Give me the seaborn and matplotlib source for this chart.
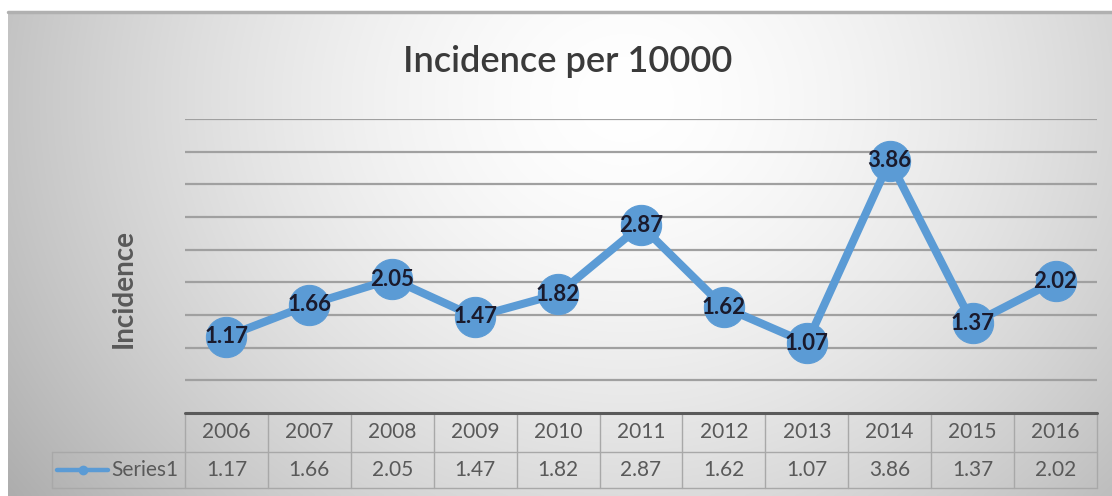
import numpy as np
import pandas as pd
import matplotlib
matplotlib.use("Agg")
import matplotlib.pyplot as plt
import matplotlib.transforms as mtransforms
from matplotlib.lines import Line2D
import seaborn as sns

# ---------------- data ----------------
years = ["2006", "2007", "2008", "2009", "2010", "2011",
         "2012", "2013", "2014", "2015", "2016"]
values = [1.17, 1.66, 2.05, 1.47, 1.82, 2.87, 1.62, 1.07, 3.86, 1.37, 2.02]
series_name = "Series1"
title = "Incidence per 10000"
ylabel = "Incidence"

df = pd.DataFrame({"pos": np.arange(len(years)), "year": years, "value": values})

# ---------------- style ----------------
sns.set_style("white")
plt.rcParams["font.family"] = ["Lato", "DejaVu Sans"]

W, H = 1112, 496
fig = plt.figure(figsize=(W / 100, H / 100), dpi=100, facecolor="white")

def fx(px):
    return px / W

def fy(py):
    return (H - py) / H

# background panel with radial gradient
bg = fig.add_axes([fx(8), 0, 1 - fx(8), fy(12)], zorder=-10)
nx, ny = 400, 200
gx, gy = np.meshgrid(np.linspace(0, 1, nx), np.linspace(0, 1, ny))
d = np.sqrt(((gx - 0.56) / 0.62) ** 2 + ((gy - 0.18) / 1.25) ** 2)
v = 1.0 - 0.27 * np.clip(d, 0, 1.2) ** 1.6
img = np.dstack([v, v, v])
bg.imshow(img, aspect="auto", extent=[0, 1, 0, 1], origin="upper",
          interpolation="bicubic")
bg.set_axis_off()
bg.plot([0, 1], [1, 1], color="#b0b0b0", lw=2.5, transform=bg.transAxes,
        clip_on=False)

# main plotting axes
left_px, right_px, top_px, bot_px = 185, 1097, 119, 413
ax = fig.add_axes([fx(left_px), fy(bot_px), fx(right_px - left_px),
                   (bot_px - top_px) / H])
ax.set_facecolor("none")

blue = "#5B9BD5"
sns.lineplot(data=df, x="pos", y="value", ax=ax, color=blue, linewidth=5.8,
             marker="o", markersize=29, markeredgecolor=blue,
             markerfacecolor=blue, zorder=3)

ax.set_xlim(-0.5, len(years) - 0.5)
ax.set_ylim(0, 4.5)
ax.set_yticks(np.arange(0.5, 4.51, 0.5))
ax.yaxis.grid(True, color="#a0a0a0", linewidth=1.6)
ax.set_axisbelow(True)
ax.tick_params(left=False, bottom=False, labelleft=False, labelbottom=False)
for s in ax.spines.values():
    s.set_visible(False)
ax.set_xlabel("")
ax.set_ylabel("")

# data labels
for p, val in zip(df["pos"], df["value"]):
    ax.text(p, val, f"{val:.2f}", ha="center", va="center", fontsize=16,
            fontweight="bold", color="#1a1a2c", zorder=5)

# title and y-label
fig.text(fx(568), fy(62), title, ha="center", va="center", fontsize=26,
         fontweight="semibold", color="#3a3a3a")
fig.text(fx(124), fy(288), ylabel, ha="center", va="center", fontsize=20,
         fontweight="bold", color="#595959", rotation=90)

# ---------------- data table ----------------
tr = mtransforms.blended_transform_factory(ax.transData, fig.transFigure)
row1_top, row1_bot, row2_bot = 413, 452, 488
border = "#a8a8a8"
n = len(years)

# axis line (top border of table)
fig.add_artist(Line2D([-0.5, n - 0.5], [fy(row1_top), fy(row1_top)],
                      transform=tr, color="#5a5a5a", lw=2.2, zorder=4))
# vertical separators
for k in range(n + 1):
    b = k - 0.5
    fig.add_artist(Line2D([b, b], [fy(row1_top), fy(row2_bot)], transform=tr,
                          color=border, lw=1.0))
# horizontal lines
for yy in (row1_bot, row2_bot):
    fig.add_artist(Line2D([fx(52), fx(right_px)], [fy(yy), fy(yy)],
                          transform=fig.transFigure, color=border, lw=1.0))
fig.add_artist(Line2D([fx(52), fx(52)], [fy(row1_bot), fy(row2_bot)],
                      transform=fig.transFigure, color=border, lw=1.0))

for p, yr, val in zip(df["pos"], years, values):
    ax.text(p, fy(432), yr, transform=tr, ha="center", va="center",
            fontsize=15, color="#595959")
    ax.text(p, fy(470), f"{val:.2f}", transform=tr, ha="center", va="center",
            fontsize=15, color="#595959")

# legend key in the table
fig.add_artist(Line2D([fx(57), fx(108)], [fy(470), fy(470)],
                      transform=fig.transFigure, color=blue, lw=3.2,
                      solid_capstyle="round"))
fig.add_artist(Line2D([fx(83)], [fy(470)], transform=fig.transFigure,
                      color=blue, marker="o", markersize=6))
fig.text(fx(145), fy(470), series_name, ha="center", va="center",
         fontsize=15, color="#595959")

fig.savefig("out.png", dpi=100, facecolor="white")
